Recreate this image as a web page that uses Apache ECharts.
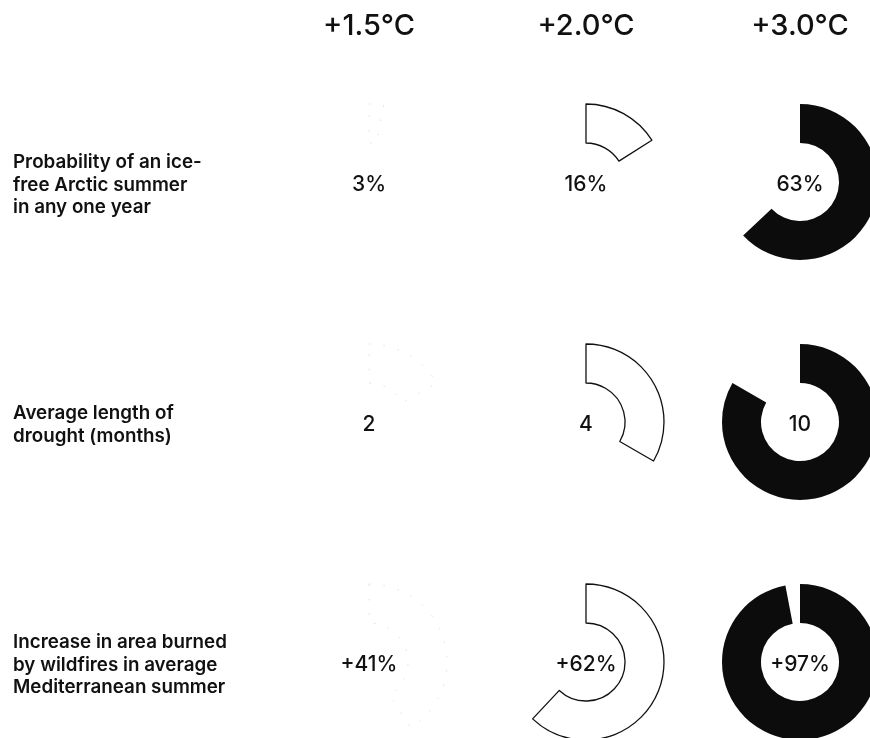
<!DOCTYPE html>
<html>
<head>
<meta charset="utf-8">
<script src="https://cdn.jsdelivr.net/npm/echarts@6/dist/echarts.min.js"></script>
<style>
  html, body { margin: 0; padding: 0; background: #fff; }
  #chart { width: 870px; height: 738px; }
</style>
</head>
<body>
<div id="chart"></div>
<script>
// Warming scenarios (column headers)
const scenarios = ['+1.5°C', '+2.0°C', '+3.0°C'];

// Row descriptions
const rowTitles = [
  'Probability of an ice-\nfree Arctic summer\nin any one year',
  'Average length of\ndrought (months)',
  'Increase in area burned\nby wildfires in average\nMediterranean summer'
];

// Values per scenario
const iceFreeProbability = [3, 16, 63];   // percent
const droughtMonths = [2, 4, 10];         // months out of a year
const wildfireIncrease = [41, 62, 97];    // percent increase

// Full-circle totals and label formats for each row
const rows = [
  { values: iceFreeProbability, total: 100, fmt: v => v + '%' },
  { values: droughtMonths, total: 12, fmt: v => String(v) },
  { values: wildfireIncrease, total: 100, fmt: v => '+' + v + '%' }
];

// Layout
const colX = [369, 586, 800];
const rowY = [182, 422, 662];
const radius = [39, 78];
const FONT = 'Inter, "Liberation Sans", Arial, sans-serif';

// Ring style per scenario: barely visible outline, black outline, solid black
const ringStyles = [
  { color: '#ffffff', borderColor: '#d6d6d6', borderWidth: 0.8, borderType: [1.5, 13] },
  { color: '#ffffff', borderColor: '#111111', borderWidth: 1.3, borderType: 'solid' },
  { color: '#0c0c0c', borderColor: '#0c0c0c', borderWidth: 0, borderType: 'solid' }
];

const series = [];
const graphics = [];
rows.forEach((row, r) => {
  row.values.forEach((v, c) => {
    series.push({
      type: 'pie',
      silent: true,
      center: [colX[c], rowY[r]],
      radius: radius,
      startAngle: 90,
      clockwise: true,
      label: { show: false },
      labelLine: { show: false },
      emphasis: { disabled: true },
      data: [
        { value: v, itemStyle: ringStyles[c] },
        { value: row.total - v, itemStyle: { color: 'rgba(0,0,0,0)', borderWidth: 0 } }
      ]
    });
    // value written in the middle of each ring
    graphics.push({
      type: 'text',
      x: colX[c],
      y: rowY[r] + 3,
      z: 10,
      style: {
        text: row.fmt(v),
        fontFamily: FONT,
        fontSize: 21,
        fontWeight: 500,
        fill: '#111',
        align: 'center',
        verticalAlign: 'middle'
      }
    });
  });
});

scenarios.forEach((s, c) => {
  graphics.push({
    type: 'text',
    x: colX[c],
    y: 26,
    style: {
      text: s,
      fontFamily: FONT,
      fontSize: 29,
      fontWeight: 500,
      fill: '#111',
      align: 'center',
      verticalAlign: 'middle'
    }
  });
});
rowTitles.forEach((t, r) => {
  graphics.push({
    type: 'text',
    x: 13,
    y: rowY[r] + 3,
    style: {
      text: t,
      fontFamily: FONT,
      fontSize: 18.8,
      fontWeight: 600,
      lineHeight: 22.5,
      fill: '#111',
      align: 'left',
      verticalAlign: 'middle'
    }
  });
});

const chart = echarts.init(document.getElementById('chart'), null, { renderer: 'canvas' });
chart.setOption({
  animation: false,
  backgroundColor: '#ffffff',
  series: series,
  graphic: graphics
});
</script>
</body>
</html>
